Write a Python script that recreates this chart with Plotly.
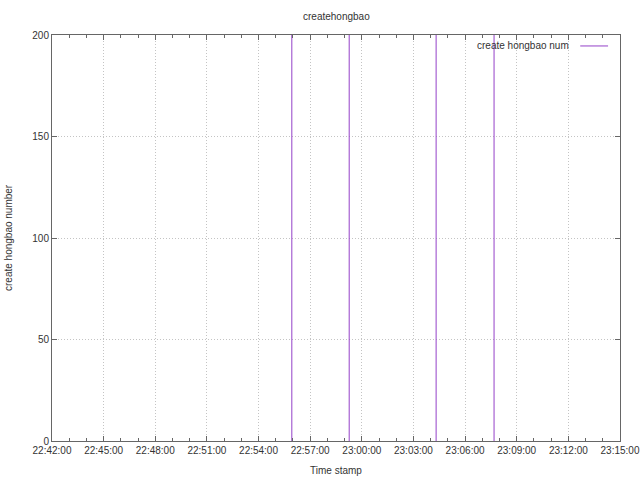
import plotly.graph_objects as go

# Data: impulse times and counts (values exceed the 200 y-range and are clipped)
spike_times = [
    "2016-02-07 22:55:56",
    "2016-02-07 22:59:16",
    "2016-02-07 23:04:19",
    "2016-02-07 23:07:41",
]
spike_counts = [420, 380, 400, 410]
series_name = "create hongbao num"
title_text = "createhongbao"
x_title = "Time stamp"
y_title = "create hongbao number"

line_color = "#9440c8"
text_color = "#333333"
font_family = "Liberation Sans, Arial"

# gnuplot "with impulses": vertical line from 0 to each value
xs, ys = [], []
for t, v in zip(spike_times, spike_counts):
    xs += [t, t, None]
    ys += [0, v, None]

fig = go.Figure()
fig.add_trace(go.Scatter(
    x=xs, y=ys, mode="lines", name=series_name,
    line=dict(color=line_color, width=1), showlegend=False,
))

axis_common = dict(
    showline=True, linecolor="#666666", linewidth=1, mirror="ticks",
    ticks="inside", ticklen=5, tickcolor="#666666",
    showgrid=True, gridcolor="#c4c4c4", griddash="1px,2px", gridwidth=1,
    zeroline=False, layer="above traces", automargin=False,
    tickfont=dict(family=font_family, size=10, color=text_color),
)

fig.update_xaxes(
    **axis_common,
    type="date",
    range=["2016-02-07 22:42:00", "2016-02-07 23:15:00.01"],
    tick0="2016-02-07 22:42:00", dtick=180000,
    tickformat="%H:%M:%S",
    minor=dict(dtick=60000, ticks="inside", ticklen=3, tickcolor="#666666", showgrid=False),
)
fig.update_yaxes(
    **axis_common,
    range=[0, 200], tick0=0, dtick=50,
)

# Titles as annotations positioned relative to the plot area
fig.add_annotation(xref="paper", yref="paper", x=0.5, y=1, yshift=19,
                   xanchor="center", yanchor="middle", text=title_text, showarrow=False,
                   font=dict(family=font_family, size=10, color=text_color))
fig.add_annotation(xref="paper", yref="paper", x=0.5, y=0, yshift=-29,
                   xanchor="center", yanchor="middle", text=x_title, showarrow=False,
                   font=dict(family=font_family, size=10, color=text_color))
fig.add_annotation(xref="paper", yref="paper", x=0, y=0.5, xshift=-44,
                   xanchor="center", yanchor="middle", text=y_title, showarrow=False,
                   textangle=-90,
                   font=dict(family=font_family, size=10, color=text_color))

# gnuplot-style key: text followed by line sample
fig.add_annotation(xref="paper", yref="paper", x=0.914, y=0.973,
                   xanchor="right", yanchor="middle", text=series_name, showarrow=False,
                   font=dict(family=font_family, size=10, color=text_color))
fig.add_shape(type="line", xref="paper", yref="paper",
              x0=0.93, x1=0.979, y0=0.973, y1=0.973,
              line=dict(color=line_color, width=1))

fig.update_layout(
    width=640, height=480,
    margin=dict(l=52, r=20, t=35, b=39, autoexpand=False),
    paper_bgcolor="white", plot_bgcolor="white",
)

fig.write_html("out.html", config={"displayModeBar": False},
               post_script="document.body.style.margin='0';document.body.style.overflow='hidden';")
